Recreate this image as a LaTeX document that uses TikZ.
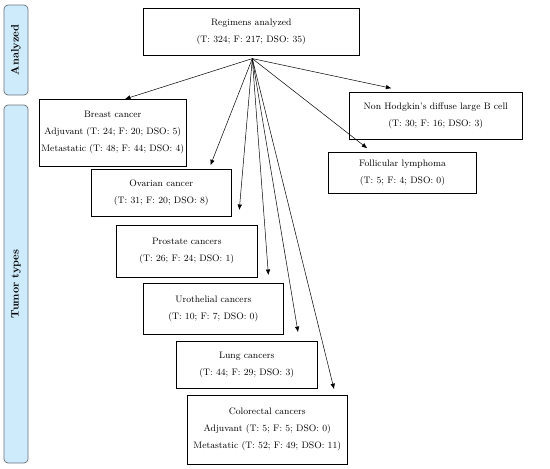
\documentclass[tikz,border=0pt]{standalone}
\usepackage{tikz}
\usetikzlibrary{arrows.meta, calc}
\definecolor{sidefill}{RGB}{206,235,252}
\definecolor{sidedraw}{RGB}{105,115,125}

\begin{document}
\begin{tikzpicture}[
      x=1pt, y=-1pt,
      box/.style={rectangle, draw, line width=0.6pt, anchor=north west, inner sep=0pt, align=center, font=\fontsize{9.4}{17}\selectfont},
      side/.style={rectangle, draw=sidedraw, fill=sidefill, rounded corners=4pt, line width=0.7pt, inner sep=0pt, minimum height=24pt, rotate=90, font=\fontsize{10.8}{12}\selectfont\bfseries},
      arrow/.style={-{Latex[length=5.5pt, width=4.5pt]}, line width=0.5pt}
    ]
      \useasboundingbox (0,0) rectangle (550,469);

      \node[side, minimum width=90pt] (analyzed) at (16,50) {Analyzed};
      \node[side, minimum width=358pt] (tumor) at (16,284) {Tumor types};

      \node[box, minimum width=216pt, minimum height=47pt] (top) at (143,8) {Regimens analyzed\\(T: 324; F: 217; DSO: 35)};
      \node[box, minimum width=147pt, minimum height=67pt] (breast) at (39,99) {Breast cancer\\Adjuvant (T: 24; F: 20; DSO: 5)\\Metastatic (T: 48; F: 44; DSO: 4)};
      \node[box, minimum width=140pt, minimum height=47pt] (ovarian) at (91,169) {Ovarian cancer\\(T: 31; F: 20; DSO: 8)};
      \node[box, minimum width=141pt, minimum height=52pt] (prostate) at (116,225) {Prostate cancers\\(T: 26; F: 24; DSO: 1)};
      \node[box, minimum width=140pt, minimum height=51pt] (uro) at (143,283) {Urothelial cancers\\(T: 10; F: 7; DSO: 0)};
      \node[box, minimum width=141pt, minimum height=47pt] (lung) at (176,341) {Lung cancers\\(T: 44; F: 29; DSO: 3)};
      \node[box, minimum width=160pt, minimum height=69pt] (colo) at (187,395) {Colorectal cancers\\Adjuvant (T: 5; F: 5; DSO: 0)\\Metastatic (T: 52; F: 49; DSO: 11)};
      \node[box, minimum width=173pt, minimum height=47pt] (nhl) at (349,92) {Non Hodgkin's diffuse large B cell\\(T: 30; F: 16; DSO: 3)};
      \node[box, line width=1pt, minimum width=148pt, minimum height=41pt] (foll) at (328,152) {Follicular lymphoma\\(T: 5; F: 4; DSO: 0)};

      \coordinate (hub) at ($(top.south)+(1,3)$);

      \draw[arrow] (hub) -- ([xshift=86pt]breast.north west);
      \draw[arrow, shorten >=4pt] (hub) -- ([xshift=118pt]ovarian.north west);
      \draw[arrow, shorten >=15pt] (hub) -- ([xshift=122pt]prostate.north west);
      \draw[arrow, shorten >=8pt] (hub) -- ([xshift=126pt]uro.north west);
      \draw[arrow, shorten >=9pt] (hub) -- ([xshift=123.5pt]lung.north west);
      \draw[arrow, shorten >=6pt] (hub) -- ([xshift=148.5pt]colo.north west);
      \draw[arrow, shorten >=6pt] (hub) -- ([xshift=44pt]foll.north west);
      \draw[arrow, shorten >=18pt] (hub) -- ([xshift=60pt]nhl.north west);
    \end{tikzpicture}
\end{document}
